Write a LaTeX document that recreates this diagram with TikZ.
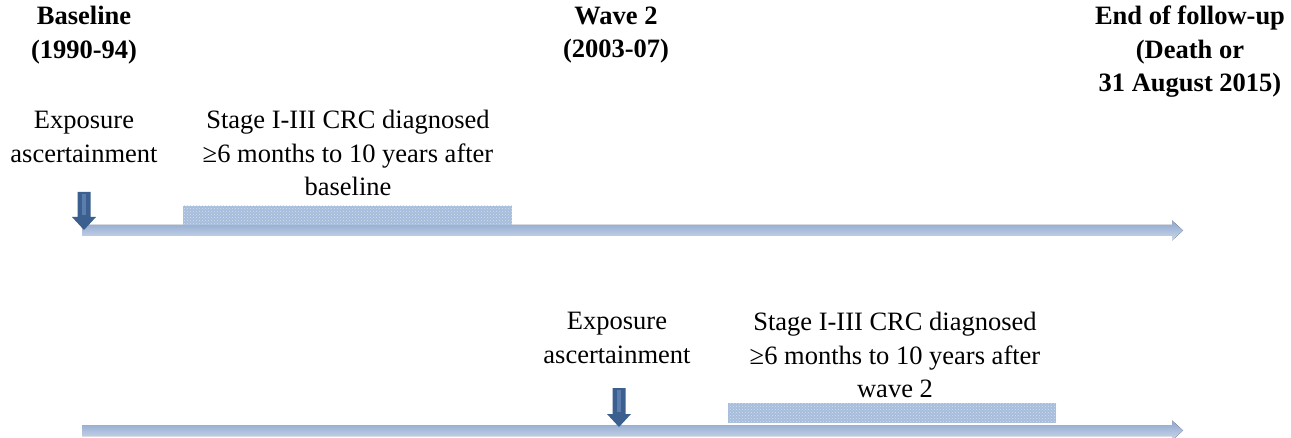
\documentclass[tikz,border=0pt]{standalone}
\usepackage{fontspec}
\setmainfont{Liberation Serif}
\usetikzlibrary{patterns}
\definecolor{linetop}{HTML}{8DA6CC}
\definecolor{linebot}{HTML}{CBD8EC}
\definecolor{arrowblue}{HTML}{3B5F8E}
\definecolor{arrowlight}{HTML}{5A7DAE}
\definecolor{barblue}{HTML}{A6BDDC}
\definecolor{bardot}{HTML}{D2DEEE}
\tikzset{
  txt/.style={align=center, inner sep=0pt, font=\fontsize{26.5}{33.5}\selectfont},
  btxt/.style={txt, font=\fontsize{26.5}{33.5}\selectfont\bfseries},
  timeline/.style={top color=linetop, bottom color=linebot, draw=none},
  downarrow/.style={fill=arrowblue, draw=none},
  hatchbar/.style={fill=barblue, draw=none},
  hatchdots/.style={pattern=crosshatch dots, pattern color=bardot, draw=none}
}
\begin{document}
\begin{tikzpicture}[x=1pt,y=-1pt]
\useasboundingbox (0,0) rectangle (1291,438);
% texts
\node[btxt] (base) at (84,35) {Baseline\\(1990-94)};
\node[btxt] (wave) at (616,35) {Wave 2\\(2003-07)};
\node[btxt] (end) at (1190,52) {End of follow-up\\(Death or\\31 August 2015)};
\node[txt] (exp1) at (84,137) {Exposure\\ascertainment};
\node[txt] (stg1) at (348,153) {Stage I-III CRC diagnosed\\≥6 months to 10 years after\\baseline};
\node[txt] (exp2) at (617,338) {Exposure\\ascertainment};
\node[txt] (stg2) at (895,355) {Stage I-III CRC diagnosed\\≥6 months to 10 years after\\wave 2};
% timelines
\foreach \y/\n in {230.5/tl1, 430.5/tl2}{
  \fill[timeline] (82,\y-5.5) -- (1172,\y-5.5) -- (1172,\y-10) -- (1183,\y) -- (1172,\y+10) -- (1172,\y+5.5) -- (82,\y+5.5) -- cycle;
  \coordinate (\n) at (82,\y);
}
% hatched bars
\fill[hatchbar] (183,206) rectangle (512,225);
\fill[hatchdots] (183,206) rectangle (512,225);
\fill[hatchbar] (728,403) rectangle (1056,423);
\fill[hatchdots] (728,403) rectangle (1056,423);
% down arrows
\foreach \x/\top/\tip in {84/192/230, 619/388/427}{
  \fill[downarrow] (\x-6.5,\top) -- (\x+6.5,\top) -- (\x+6.5,\tip-13) -- (\x+12,\tip-13) -- (\x,\tip) -- (\x-12,\tip-13) -- (\x-6.5,\tip-13) -- cycle;
  \fill[arrowlight] (\x-2,\top+2) rectangle (\x+2,\tip-15);
}
\end{tikzpicture}
\end{document}
